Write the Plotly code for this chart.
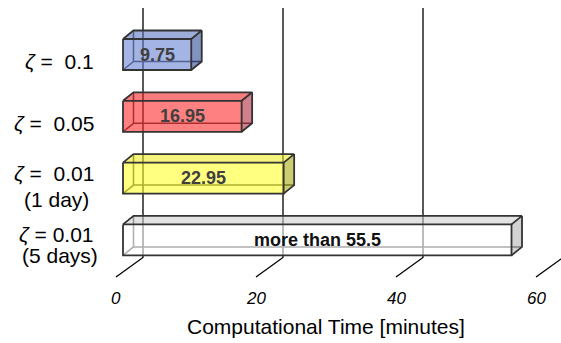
import plotly.graph_objects as go

# ---- data -------------------------------------------------------------
label_lines = [
    ["<i>ζ</i> =\u00a0 0.1"],
    ["<i>ζ</i> =\u00a0 0.05"],
    ["<i>ζ</i> =\u00a0 0.01", "(1 day)"],
    ["<i>ζ</i> = 0.01", "(5 days)"],
]
times = [9.75, 16.95, 22.95, 55.5]
value_labels = ["9.75", "16.95", "22.95", "more than 55.5"]
x_ticks = [0, 20, 40, 60]
x_title = "Computational Time [minutes]"

# ---- style ------------------------------------------------------------
FRONT = ["#a4b4e4", "#ff8080", "#ffff80", "#ffffff"]
TOP = ["#9eaedc", "#f47c7c", "#f4f47c", "#e2e2e2"]
SIDE = ["#8393c0", "#d0808a", "#cccc70", "#d2d2d2"]
LABEL_COLOR = ["#404040", "#404040", "#404040", "#111111"]
EDGE = "#333333"
ALPHA = 0.6
FONT = "Liberation Sans, Arial, sans-serif"

W, H = 561, 343
X0_PX, PX_PER_MIN = 123, 7.0          # zero of the bar front plane
ROW0_PX, ROW_PX = 54.5, 61.8          # first row centre, row pitch
BAR_HALF = 15.5                       # half height of a bar front (px)
BAR_DX, BAR_DY = 10.5, -8.5           # bar depth offset (px)
WALL_DX = 20                          # back wall relative to bar front (px)
FLOOR_DX = -7                         # front floor edge relative to bar front (px)
BACK_FLOOR, FRONT_FLOOR = 17.6, 37.1  # below last row centre (px)
WALL_TOP = -46.5                      # above first row centre (px)
# row labels: first line right-aligned, second line centred under it
LABEL_POS = [
    [(-27, 7, "right")],
    [(-27, 7.5, "right")],
    [(-27, -4.5, "right"), (-66.5, 21, "center")],
    [(-27, -5.5, "right"), (-63.5, 15.5, "center")],
]
TICK_Y, TITLE_Y = 59, 87              # below last row centre (px)


def mx(v, dpx=0.0):
    return v + dpx / PX_PER_MIN


def ry(r, dpx=0.0):
    return r + dpx / ROW_PX


def translucent(hexcol, a=ALPHA):
    h = hexcol.lstrip("#")
    rgb = [int(h[i:i + 2], 16) for i in (0, 2, 4)]
    f = [max(0, min(255, round((c - 255 * (1 - a)) / a))) for c in rgb]
    return f"rgba({f[0]},{f[1]},{f[2]},{a})"


def line_trace(xs, ys, color, width):
    return go.Scatter(x=xs, y=ys, mode="lines", hoverinfo="skip",
                      showlegend=False, line=dict(color=color, width=width))


def poly_trace(xs, ys, fill):
    return go.Scatter(x=xs, y=ys, mode="lines", fill="toself", fillcolor=fill,
                      hoverinfo="skip", showlegend=False,
                      line=dict(width=0, color="rgba(0,0,0,0)"))


fig = go.Figure()
n = len(times)
last = n - 1

# back-wall gridlines and floor tick lines
gx, gy = [], []
for t in x_ticks:
    gx += [mx(t, WALL_DX), mx(t, WALL_DX), mx(t, FLOOR_DX), None]
    gy += [ry(0, WALL_TOP), ry(last, BACK_FLOOR), ry(last, FRONT_FLOOR), None]
fig.add_trace(line_trace(gx, gy, "#000000", 1.3))

# 3-D boxes
for i, v in enumerate(times):
    top, bot = ry(i, -BAR_HALF), ry(i, BAR_HALF)
    x0, x1 = mx(0), mx(v)
    bx0, bx1 = mx(0, BAR_DX), mx(v, BAR_DX)
    btop, bbot = ry(i, -BAR_HALF + BAR_DY), ry(i, BAR_HALF + BAR_DY)

    # hidden edges, seen through the faces
    fig.add_trace(line_trace(
        [bx0, bx0, bx1, None, x0, bx0],
        [btop, bbot, bbot, None, bot, bbot], EDGE, 1.5))

    # faces
    fig.add_trace(poly_trace([x0, x1, x1, x0, x0], [top, top, bot, bot, top],
                             translucent(FRONT[i])))
    fig.add_trace(poly_trace([x0, bx0, bx1, x1, x0], [top, btop, btop, top, top],
                             translucent(TOP[i])))
    fig.add_trace(poly_trace([x1, bx1, bx1, x1, x1], [top, btop, bbot, bot, top],
                             translucent(SIDE[i])))

    # visible edges
    fig.add_trace(line_trace(
        [x0, x1, x1, x0, x0, None, x0, bx0, bx1, x1, None, bx1, bx1, x1],
        [top, top, bot, bot, top, None, top, btop, btop, top, None, btop, bbot, bot],
        EDGE, 1.8))

annotations = []
for i, v in enumerate(times):
    annotations.append(dict(
        x=mx(v / 2), y=ry(i), text=f"<b>{value_labels[i]}</b>", showarrow=False,
        xanchor="center", yanchor="middle",
        font=dict(family=FONT, size=18, color=LABEL_COLOR[i])))
    for line, (dx, dy, anchor) in zip(label_lines[i], LABEL_POS[i]):
        annotations.append(dict(
            x=mx(0, dx), y=ry(i, dy), text=line, showarrow=False,
            xanchor=anchor, yanchor="middle",
            font=dict(family=FONT, size=21, color="#000000")))

for t in x_ticks:
    annotations.append(dict(
        x=mx(t, FLOOR_DX), y=ry(last, TICK_Y), text=f"<i>{t}</i>", showarrow=False,
        xanchor="center", yanchor="middle",
        font=dict(family=FONT, size=17, color="#000000")))

annotations.append(dict(
    x=mx((x_ticks[0] + x_ticks[-1]) / 2, FLOOR_DX), y=ry(last, TITLE_Y),
    text=x_title, showarrow=False, xanchor="center", yanchor="middle",
    font=dict(family=FONT, size=21, color="#000000")))

fig.update_layout(
    width=W, height=H, autosize=False,
    margin=dict(l=0, r=0, t=0, b=0, pad=0),
    paper_bgcolor="#ffffff", plot_bgcolor="#ffffff",
    xaxis=dict(visible=False, range=[mx(0, -X0_PX), mx(0, W - X0_PX)], fixedrange=True),
    yaxis=dict(visible=False, range=[ry(0, H - ROW0_PX), ry(0, -ROW0_PX)], fixedrange=True),
    annotations=annotations,
    showlegend=False,
)

fig.write_html("out.html")
